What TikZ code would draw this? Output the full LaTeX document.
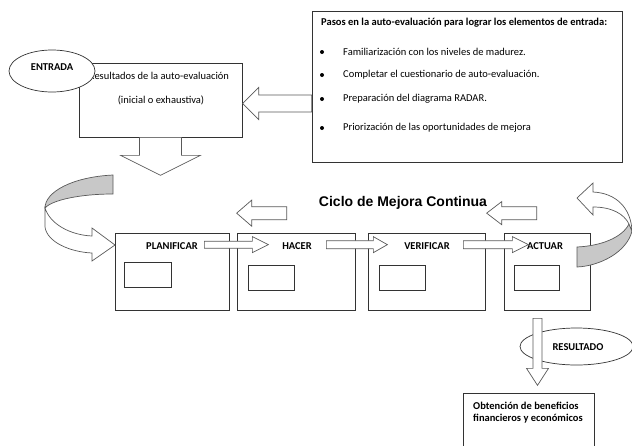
\documentclass[tikz,border=0pt]{standalone}
\usepackage{fontspec}
\setmainfont{Carlito}
\newfontfamily\titlefont{Liberation Sans}
\usetikzlibrary{positioning,calc,shapes.geometric}

\definecolor{edge}{HTML}{333333}
\definecolor{arrowline}{HTML}{595959}
\definecolor{backband}{HTML}{C8C8C8}

\tikzset{
  box/.style={draw=edge,line width=.7pt,fill=white,inner sep=0pt},
  innerbox/.style={draw=edge,line width=.7pt,minimum width=46pt,minimum height=25pt,inner sep=0pt},
  oval/.style={ellipse,draw=edge,line width=.7pt,fill=white,inner sep=0pt},
  txt/.style={font=\fontsize{10.5}{12}\selectfont,inner sep=0pt},
  lbl/.style={font=\fontsize{10.5}{12}\selectfont\bfseries,inner sep=0pt},
  blk/.style={draw=arrowline,line width=.7pt,fill=white,line join=miter},
}

% block arrow: origin at the middle of the tail, pointing along +x
% #2 origin, #3 shaft length, #4 half shaft, #5 head length, #6 half head
\newcommand\blockarrow[6][]{%
  \draw[blk,shift={#2},#1] (0,-#4) -- (#3,-#4) -- (#3,-#6) -- ({#3+#5},0)
    -- (#3,#6) -- (#3,#4) -- (0,#4) -- cycle;}

\begin{document}
\begin{tikzpicture}[x=1pt,y=-1pt]
  \useasboundingbox (0,0) rectangle (632,445);

  % entrada
  \node[box,minimum width=163pt,minimum height=74pt] (res) at (160.5,100) {};
  \node[txt] (res1) at (159,76) {Resultados de la auto-evaluación};
  \node[txt] (res2) at (161,100) {(inicial o exhaustiva)};
  \node[oval,minimum width=86pt,minimum height=42pt] (entrada) at (52,71) {};
  \node[lbl] (entradalbl) at ([yshift=4pt]entrada.center) {ENTRADA};

  % pasos
  \node[box,minimum width=310pt,minimum height=151pt] (pasos) at (467,86.5) {};
  \node[lbl,anchor=west] (pasostit) at (321,23)
    {Pasos en la auto-evaluación para lograr los elementos de entrada:};
  \foreach \y/\t [count=\i] in {52/Familiarización con los niveles de madurez.,
      75/Completar el cuestionario de auto-evaluación.,
      99/Preparación del diagrama RADAR.,
      128/Priorización de las oportunidades de mejora}{
    \fill (322,\y) circle (2pt);
    \node[txt,anchor=west] (paso\i) at (343,\y) {\t};
  }
  \blockarrow[rotate=180]{($(pasos.west)+(0,17)$)}{53}{8.5}{16}{16}%pasos -> entrada
  \blockarrow[rotate=-90]{(res.south)}{18}{21}{20}{40}%entrada -> ciclo

  % ciclo
  \node[box,minimum width=114pt,minimum height=77pt] (plan) at (172,271.5) {};
  \node[box,minimum width=118pt,minimum height=77pt] (hacer) at (296,271.5) {};
  \node[box,minimum width=117pt,minimum height=77pt] (verif) at (426.5,271.5) {};
  \node[box,minimum width=86pt,minimum height=77pt] (actuar) at (547,271.5) {};
  \node[lbl] (planlbl) at (172,246) {PLANIFICAR};
  \node[lbl] (hacerlbl) at (297,246) {HACER};
  \node[lbl] (veriflbl) at (427,246) {VERIFICAR};
  \node[lbl] (actuarlbl) at (545,246) {ACTUAR};
  \node[innerbox,minimum width=47pt] (planin) at (147.5,274.5) {};
  \node[innerbox] (hacerin) at (271,277.5) {};
  \node[innerbox] (verifin) at (402,277.5) {};
  \node[innerbox,minimum width=45pt] (actuarin) at (536.5,277.5) {};
  \blockarrow{($(plan.north east)+(-25,12)$)}{48}{3.5}{16}{8}
  \blockarrow{($(hacer.north east)+(-29,12)$)}{47}{4}{14}{8}
  \blockarrow{($(verif.north east)+(-22,12)$)}{49}{4}{16}{8}

  \node[font=\titlefont\fontsize{14}{16}\selectfont\bfseries,inner sep=0pt] (ciclo)
    at (403,203) {Ciclo de Mejora Continua};
  \blockarrow[rotate=180]{($(hacer.north west)+(50,-19.5)$)}{35}{6.5}{15}{13}
  \blockarrow[rotate=180]{($(actuar.north west)+(33,-19.5)$)}{35}{6.5}{15}{11.5}

  % vuelta izquierda
  \draw[blk,fill=backband] (113,175) .. controls (72,177) and (45,192) .. (45,208)
    .. controls (52,200) and (80,194) .. (113,194) -- cycle;
  \draw[blk] (45,208) -- (45,227) .. controls (47,242) and (70,252) .. (92,253)
    -- (92,261) -- (115,245) -- (92,228) -- (92,236)
    .. controls (70,235) and (50,224) .. (45,208) -- cycle;
  % vuelta derecha
  \draw[blk,fill=backband] (577,247) .. controls (600,246) and (622,238) .. (629,224)
    -- (632,231) .. controls (627,252) and (600,266) .. (577,267) -- cycle;
  \draw[blk] (629,224) .. controls (624,214) and (612,207) .. (593,207)
    -- (593,215) -- (577,198) -- (593,183) -- (593,192)
    .. controls (616,193) and (631,208) .. (632,231) -- cycle;

  % resultado
  \node[oval,minimum width=113pt,minimum height=37pt] (resultado) at (576.5,346.5) {};
  \node[lbl] (resultadolbl) at (578,347) {RESULTADO};
  \blockarrow[rotate=-90]{($(actuar.south)+(-9.5,8)$)}{50}{4.5}{17}{11}
  \node[box,minimum width=131pt,minimum height=70pt,anchor=north] (benef) at (528.5,393) {};
  \node[lbl,anchor=west] (benef1) at (473,406) {Obtención de beneficios};
  \node[lbl,anchor=west] (benef2) at (473,419) {financieros y económicos};
\end{tikzpicture}
\end{document}
